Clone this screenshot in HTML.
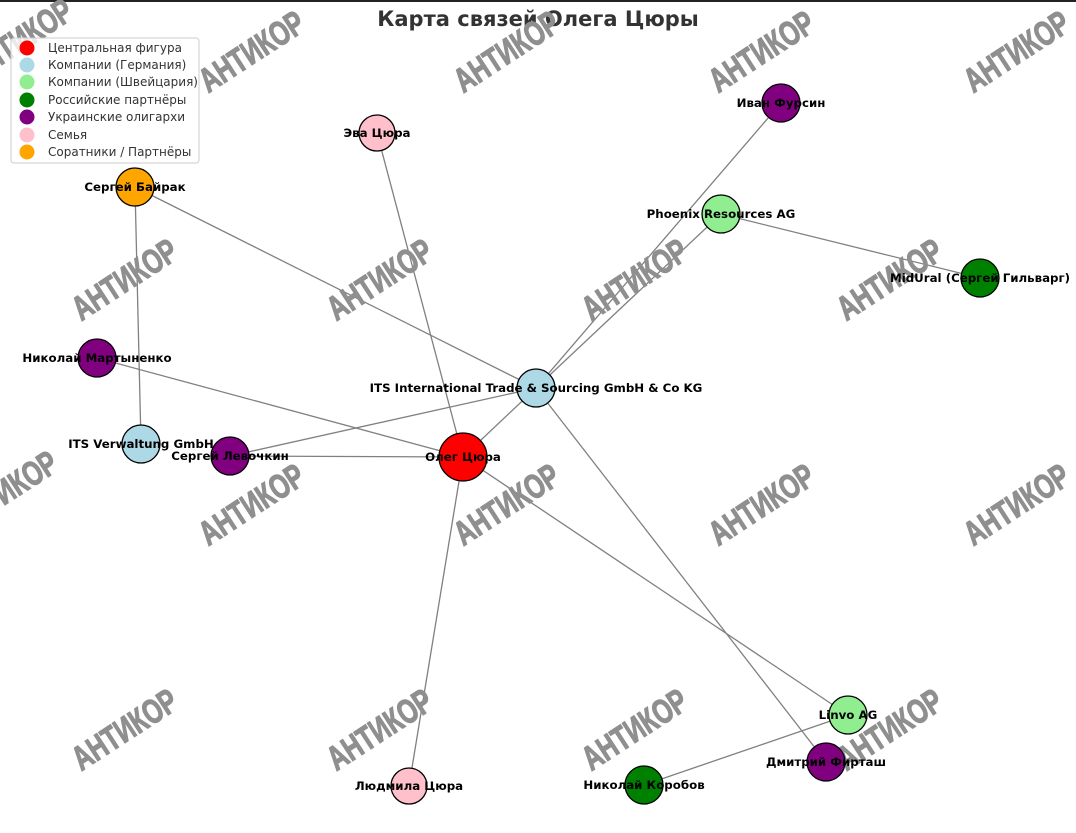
<!DOCTYPE html>
<html><head><meta charset="utf-8"><style>
html,body{margin:0;padding:0;background:#fff;}
svg{display:block;font-family:"DejaVu Sans","Liberation Sans",sans-serif;}
.wm{font-family:"Liberation Sans",sans-serif;font-weight:bold;font-size:34px;fill:#8f8f8f;stroke:#8f8f8f;stroke-width:1.2}
.lb{font-size:11.8px;font-weight:bold;fill:#000;text-anchor:middle;dominant-baseline:central}
.lg{font-size:12px;fill:#333;dominant-baseline:central}
</style></head><body>
<svg width="1076" height="833" viewBox="0 0 1076 833">
<rect x="0" y="0" width="1076" height="2" fill="#222"/>
<text x="538" y="19" text-anchor="middle" dominant-baseline="central" font-size="21" font-weight="bold" fill="#333">Карта связей Олега Цюры</text>
<g stroke="#808080" stroke-width="1.3">
<line x1="463" y1="457" x2="536" y2="388"/>
<line x1="463" y1="457" x2="377" y2="133"/>
<line x1="463" y1="457" x2="409" y2="786"/>
<line x1="463" y1="457" x2="848" y2="715"/>
<line x1="463" y1="457" x2="97" y2="358"/>
<line x1="463" y1="457" x2="230" y2="456"/>
<line x1="536" y1="388" x2="135" y2="187"/>
<line x1="536" y1="388" x2="781" y2="103"/>
<line x1="536" y1="388" x2="721" y2="214"/>
<line x1="536" y1="388" x2="826" y2="762"/>
<line x1="536" y1="388" x2="230" y2="456"/>
<line x1="135" y1="187" x2="141" y2="444"/>
<line x1="721" y1="214" x2="980" y2="278"/>
<line x1="848" y1="715" x2="644" y2="785"/>
</g>
<g class="wm">
<text transform="translate(20,40) rotate(-33) scale(0.72,1)" text-anchor="middle" dominant-baseline="central">АНТИКОР</text>
<text transform="translate(252,52) rotate(-33) scale(0.72,1)" text-anchor="middle" dominant-baseline="central">АНТИКОР</text>
<text transform="translate(507,52) rotate(-33) scale(0.72,1)" text-anchor="middle" dominant-baseline="central">АНТИКОР</text>
<text transform="translate(762,52) rotate(-33) scale(0.72,1)" text-anchor="middle" dominant-baseline="central">АНТИКОР</text>
<text transform="translate(1017,52) rotate(-33) scale(0.72,1)" text-anchor="middle" dominant-baseline="central">АНТИКОР</text>
<text transform="translate(125,280) rotate(-33) scale(0.72,1)" text-anchor="middle" dominant-baseline="central">АНТИКОР</text>
<text transform="translate(380,280) rotate(-33) scale(0.72,1)" text-anchor="middle" dominant-baseline="central">АНТИКОР</text>
<text transform="translate(635,280) rotate(-33) scale(0.72,1)" text-anchor="middle" dominant-baseline="central">АНТИКОР</text>
<text transform="translate(890,280) rotate(-33) scale(0.72,1)" text-anchor="middle" dominant-baseline="central">АНТИКОР</text>
<text transform="translate(5,492) rotate(-33) scale(0.72,1)" text-anchor="middle" dominant-baseline="central">АНТИКОР</text>
<text transform="translate(252,505) rotate(-33) scale(0.72,1)" text-anchor="middle" dominant-baseline="central">АНТИКОР</text>
<text transform="translate(507,505) rotate(-33) scale(0.72,1)" text-anchor="middle" dominant-baseline="central">АНТИКОР</text>
<text transform="translate(762,505) rotate(-33) scale(0.72,1)" text-anchor="middle" dominant-baseline="central">АНТИКОР</text>
<text transform="translate(1017,505) rotate(-33) scale(0.72,1)" text-anchor="middle" dominant-baseline="central">АНТИКОР</text>
<text transform="translate(125,730) rotate(-33) scale(0.72,1)" text-anchor="middle" dominant-baseline="central">АНТИКОР</text>
<text transform="translate(380,730) rotate(-33) scale(0.72,1)" text-anchor="middle" dominant-baseline="central">АНТИКОР</text>
<text transform="translate(635,730) rotate(-33) scale(0.72,1)" text-anchor="middle" dominant-baseline="central">АНТИКОР</text>
<text transform="translate(890,730) rotate(-33) scale(0.72,1)" text-anchor="middle" dominant-baseline="central">АНТИКОР</text>
</g>
<g stroke="#000" stroke-width="1.3">
<circle cx="463" cy="457" r="24" fill="#ff0000"/>
<circle cx="536" cy="388" r="19" fill="#add8e6"/>
<circle cx="141" cy="444" r="19" fill="#add8e6"/>
<circle cx="721" cy="214" r="19" fill="#90ee90"/>
<circle cx="848" cy="715" r="19" fill="#90ee90"/>
<circle cx="980" cy="278" r="19" fill="#008000"/>
<circle cx="644" cy="785" r="19" fill="#008000"/>
<circle cx="781" cy="103" r="19" fill="#800080"/>
<circle cx="97" cy="358" r="19" fill="#800080"/>
<circle cx="230" cy="456" r="19" fill="#800080"/>
<circle cx="826" cy="762" r="19" fill="#800080"/>
<circle cx="377" cy="133" r="18" fill="#ffc0cb"/>
<circle cx="409" cy="786" r="18" fill="#ffc0cb"/>
<circle cx="135" cy="187" r="19" fill="#ffa500"/>
</g>
<g class="lb">
<text x="463" y="457">Олег Цюра</text>
<text x="536" y="388">ITS International Trade &amp; Sourcing GmbH &amp; Co KG</text>
<text x="141" y="444">ITS Verwaltung GmbH</text>
<text x="721" y="214">Phoenix Resources AG</text>
<text x="848" y="715">Linvo AG</text>
<text x="980" y="278">MidUral (Сергей Гильварг)</text>
<text x="644" y="785">Николай Коробов</text>
<text x="781" y="103">Иван Фурсин</text>
<text x="97" y="358">Николай Мартыненко</text>
<text x="230" y="456">Сергей Левочкин</text>
<text x="826" y="762">Дмитрий Фирташ</text>
<text x="377" y="133">Эва Цюра</text>
<text x="409" y="786">Людмила Цюра</text>
<text x="135" y="187">Сергей Байрак</text>
</g>
<rect x="11" y="38" width="188" height="125" rx="3" fill="#fff" fill-opacity="0.8" stroke="#ccc"/>
<g>
<circle cx="27" cy="48" r="7.5" fill="#ff0000"/>
<circle cx="27" cy="65" r="7.5" fill="#add8e6"/>
<circle cx="27" cy="82" r="7.5" fill="#90ee90"/>
<circle cx="27" cy="100" r="7.5" fill="#008000"/>
<circle cx="27" cy="117" r="7.5" fill="#800080"/>
<circle cx="27" cy="135" r="7.5" fill="#ffc0cb"/>
<circle cx="27" cy="152" r="7.5" fill="#ffa500"/>
</g>
<g class="lg">
<text x="48" y="48">Центральная фигура</text>
<text x="48" y="65">Компании (Германия)</text>
<text x="48" y="82">Компании (Швейцария)</text>
<text x="48" y="100">Российские партнёры</text>
<text x="48" y="117">Украинские олигархи</text>
<text x="48" y="135">Семья</text>
<text x="48" y="152">Соратники / Партнёры</text>
</g>
</svg>
</body></html>
